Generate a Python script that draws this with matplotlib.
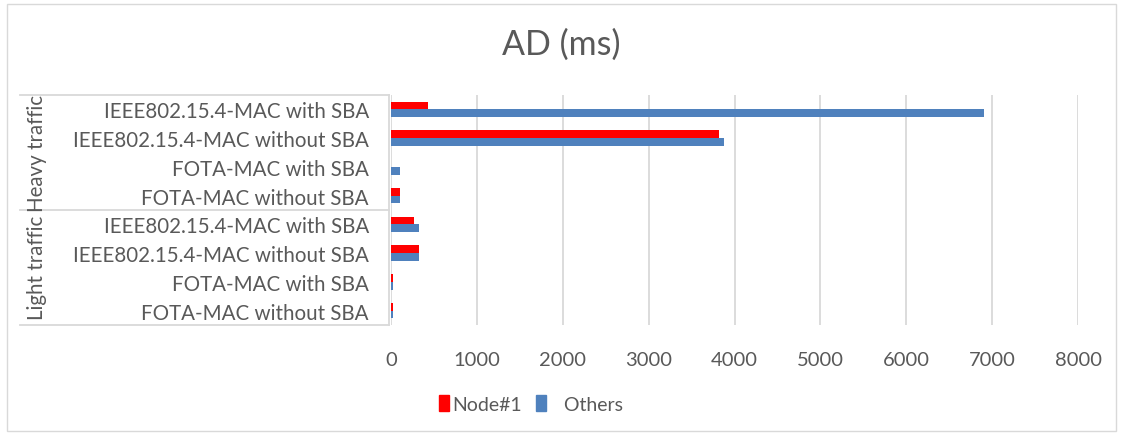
import numpy as np
import matplotlib.pyplot as plt
from matplotlib.lines import Line2D
from matplotlib.patches import Patch, Rectangle

plt.rcParams['font.family'] = ['Lato', 'DejaVu Sans']

# Datos (de arriba hacia abajo)
grupos = ["Heavy traffic", "Light traffic"]
categorias = ["IEEE802.15.4-MAC with SBA", "IEEE802.15.4-MAC without SBA",
              "FOTA-MAC with SBA", "FOTA-MAC without SBA"]
node1_heavy = [430, 3820, 0, 100]
others_heavy = [6900, 3880, 100, 100]
node1_light = [270, 330, 20, 20]
others_light = [330, 330, 20, 20]

etiquetas = categorias + categorias
node1 = node1_heavy + node1_light
others = others_heavy + others_light

ROJO = '#FF0000'
AZUL = '#4F81BD'
GRIS = '#595959'

W, H = 1123, 439
fig = plt.figure(figsize=(W / 100, H / 100), dpi=100)

def fx(px):
    return px / W

def fy(py):
    return 1 - py / H

ax = fig.add_axes([fx(391), fy(326), fx(1078) - fx(391), fy(96) - fy(326)])

n = len(etiquetas)
y = np.arange(n)[::-1]  # primera categoría arriba
h = 0.27
ax.barh(y + h / 2, node1, height=h, color=ROJO, label="Node#1")
ax.barh(y - h / 2, others, height=h, color=AZUL, label="Others")

ax.set_xlim(0, 8000)
ax.set_ylim(-0.5, n - 0.5)
ax.set_xticks(np.arange(0, 8001, 1000))
ax.set_yticks(y)
ax.set_yticklabels(etiquetas)
ax.grid(axis='x', color='#d9d9d9', linewidth=1.3)
ax.set_axisbelow(True)
for s in ax.spines.values():
    s.set_visible(False)
ax.tick_params(axis='x', length=0, pad=19, labelsize=14.5, labelcolor=GRIS)
ax.tick_params(axis='y', length=0, pad=16, labelsize=14.8, labelcolor=GRIS)

# Caja de categorías multinivel
gris_linea = '#d9d9d9'
for py in [96, 211, 326]:
    fig.add_artist(Line2D([fx(20), fx(389)], [fy(py), fy(py)], color=gris_linea, lw=1.3))
fig.add_artist(Line2D([fx(389), fx(389)], [fy(96), fy(326)], color=gris_linea, lw=1.3))

fig.text(fx(37), fy(153), grupos[0], rotation=90, ha='center', va='center',
         fontsize=14.8, color=GRIS)
fig.text(fx(37), fy(268), grupos[1], rotation=90, ha='center', va='center',
         fontsize=14.8, color=GRIS)

fig.text(0.5, fy(45), "AD (ms)", ha='center', va='center', fontsize=24.5, color=GRIS)

# Borde exterior
fig.add_artist(Rectangle((fx(7), fy(432)), fx(1116) - fx(7), fy(5) - fy(432),
                         transform=fig.transFigure, fill=False, edgecolor='#d9d9d9', lw=1))

handles = [Patch(color=ROJO), Patch(color=AZUL)]
fig.legend(handles, ["Node#1", "   Others"], loc='center', bbox_to_anchor=(fx(531), fy(405)),
           ncol=2, frameon=False, fontsize=14, labelcolor=GRIS, handlelength=0.55,
           handleheight=0.9, handletextpad=0.15, columnspacing=0.7)

fig.savefig("out.png", dpi=100)
